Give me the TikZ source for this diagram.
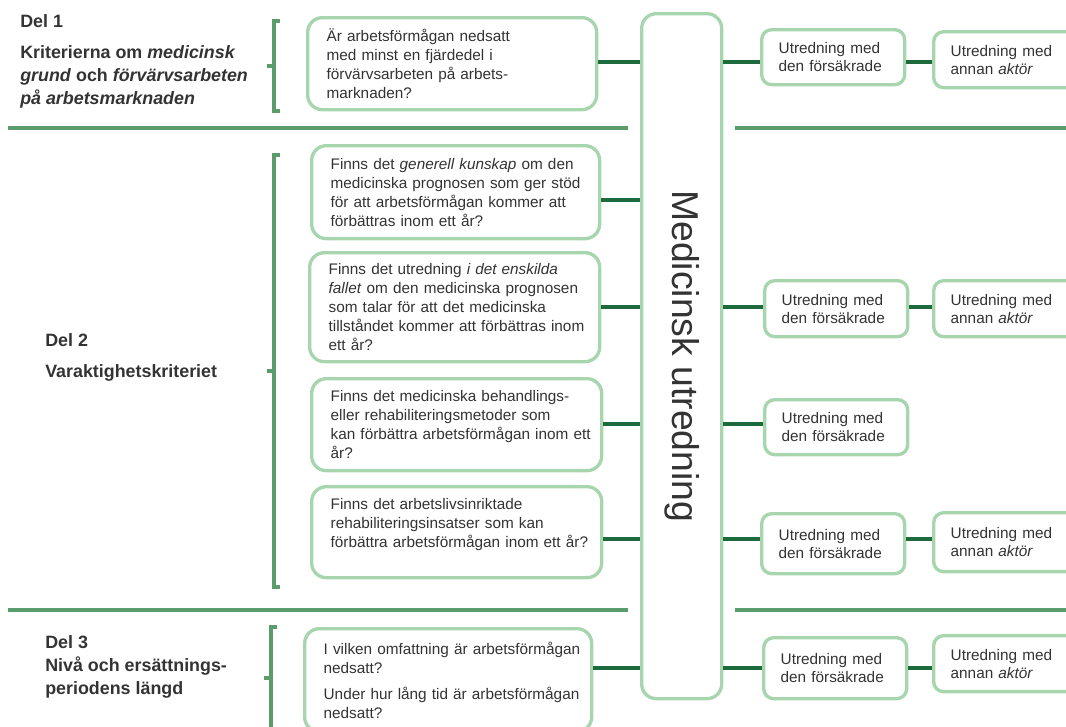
\documentclass[tikz,border=0pt]{standalone}
\usepackage{fontspec}
\setmainfont{Liberation Sans}
\usetikzlibrary{calc}
\definecolor{boxgreen}{HTML}{A6D5AE}
\definecolor{darkgreen}{HTML}{1D6B3D}
\definecolor{midgreen}{HTML}{5A9C6A}
\definecolor{textgray}{HTML}{333333}
\begin{document}
\begin{tikzpicture}[x=0.75pt,y=-0.75pt,
  qbox/.style={draw=boxgreen, line width=2.5pt, rounded corners=11pt, fill=white,
    align=left, anchor=north west, inner xsep=14.25pt, inner ysep=0pt,
    font=\fontsize{11.5}{14.25}\selectfont, text=textgray},
  sbox/.style={draw=boxgreen, line width=2.5pt, rounded corners=7.5pt, fill=white,
    align=left, anchor=north west, inner xsep=12.75pt, inner ysep=0pt,
    font=\fontsize{11.5}{13.5}\selectfont, text=textgray},
  abox/.style={sbox, minimum width=107.25pt, text width=81.75pt},
  bbox/.style={sbox, minimum width=120pt, text width=94.5pt},
  mubox/.style={draw=boxgreen, line width=2.5pt, rounded corners=11pt, fill=white,
    anchor=north west, minimum width=60pt, minimum height=513.75pt, inner sep=0pt},
  conn/.style={draw=darkgreen, line width=2.3pt},
  sep/.style={draw=midgreen, line width=2.4pt},
  brk/.style={draw=midgreen, line width=2.3pt},
  hdr/.style={font=\fontsize{13.4}{17.25}\selectfont\bfseries, text=textgray, inner sep=0pt, align=left}
]
\useasboundingbox (0,0) rectangle (1066,726);
\clip (0,0) rectangle (1066,726);

% separators
\draw[sep] (8,128) -- (628,128);
\draw[sep] (735,128) -- (1066,128);
\draw[sep] (8,610) -- (628,610);
\draw[sep] (735,610) -- (1066,610);

% brackets
\draw[brk] (280,21) -- (274,21) -- (274,111) -- (280,111);
\draw[brk] (274,66) -- (267,66);
\draw[brk] (280,155) -- (274,155) -- (274,587) -- (280,587);
\draw[brk] (274,371) -- (267,371);
\draw[brk] (277,627) -- (271,627) -- (271,740);
\draw[brk] (271,678) -- (264,678);

% headers
\node[hdr, anchor=base west] (d1) at (20,27) {Del 1};
\node[hdr, anchor=north west] (d1t) at (20,45) {Kriterierna om \textit{medicinsk}\\\textit{grund} och \textit{förvärvsarbeten}\\\textit{på arbetsmarknaden}};
\node[hdr, anchor=base west] (d2) at (45,346) {Del 2};
\node[hdr, anchor=base west] (d2t) at (45,377) {Varaktighetskriteriet};
\node[hdr, anchor=base west] (d3) at (45,648) {Del 3};
\node[hdr, anchor=north west] (d3t) at (45,657) {Nivå och ersättnings-\\periodens längd};

% row coordinates
\coordinate (r1) at (0,62);
\coordinate (r2) at (0,200);
\coordinate (r3) at (0,307);
\coordinate (r4) at (0,424);
\coordinate (r5) at (0,539);
\coordinate (r6) at (0,668);

% central box
\node[mubox, label={[font=\fontsize{28}{30}\selectfont, text=textgray, rotate=-90]center:Medicinsk utredning}] (mu) at (640,12) {};

% question boxes
\node[qbox, minimum width=216.75pt, minimum height=69pt, text width=188.25pt] (q1) at (306,16)
 {\mbox{Är arbetsförmågan nedsatt}\\\mbox{med minst en fjärdedel i}\\\mbox{förvärvsarbeten på arbets-}\\\mbox{marknaden?}};
\node[qbox, minimum width=216pt, minimum height=69.75pt, text width=187.5pt] (q2) at (310,144)
 {\mbox{Finns det \textit{generell kunskap} om den}\\\mbox{medicinska prognosen som ger stöd}\\\mbox{för att arbetsförmågan kommer att}\\\mbox{förbättras inom ett år?}};
\node[qbox, minimum width=217.5pt, minimum height=81.75pt, text width=189pt] (q3) at (308,251)
 {\mbox{Finns det utredning \textit{i det enskilda}}\\\mbox{\textit{fallet} om den medicinska prognosen}\\\mbox{som talar för att det medicinska}\\\mbox{tillståndet kommer att förbättras inom}\\\mbox{ett år?}};
\node[qbox, minimum width=217.5pt, minimum height=69pt, text width=189pt] (q4) at (310,377)
 {\mbox{Finns det medicinska behandlings-}\\\mbox{eller rehabiliteringsmetoder som}\\\mbox{kan förbättra arbetsförmågan inom ett}\\\mbox{år?}};
\node[qbox, minimum width=217.5pt, minimum height=68.25pt, text width=189pt] (q5) at (310,485)
 {\mbox{Finns det arbetslivsinriktade}\\\mbox{rehabiliteringsinsatser som kan}\\\mbox{förbättra arbetsförmågan inom ett år?}\rule[-14.25pt]{0pt}{0pt}};
\node[qbox, minimum width=215.25pt, minimum height=77.25pt, text width=186.75pt] (q6) at (303,627)
 {\mbox{I vilken omfattning är arbetsförmågan}\\\mbox{nedsatt?}\\[5.25pt]\mbox{Under hur lång tid är arbetsförmågan}\\\mbox{nedsatt?}};

% right boxes
\node[abox, minimum height=41.25pt] (a1) at (760,28) {Utredning med\\den försäkrade};
\node[bbox, minimum height=42pt] (b1) at (932,30) {Utredning med\\annan \textit{aktör}};
\node[abox, minimum height=42pt] (a2) at (763,279) {Utredning med\\den försäkrade};
\node[bbox, minimum height=42pt] (b2) at (932,279) {Utredning med\\annan \textit{aktör}};
\node[abox, minimum height=41.25pt] (a3) at (763,398) {Utredning med\\den försäkrade};
\node[abox, minimum height=45pt] (a4) at (760,512) {Utredning med\\den försäkrade};
\node[bbox, minimum height=44.25pt] (b4) at (932,511) {Utredning med\\annan \textit{aktör}};
\node[abox, minimum height=45.75pt] (a5) at (762,636) {Utredning med\\den försäkrade};
\node[bbox, minimum height=42pt] (b5) at (932,634) {Utredning med\\annan \textit{aktör}};

% connectors left
\draw[conn] (q1.east |- r1) -- (mu.west |- r1);
\draw[conn] (q2.east |- r2) -- (mu.west |- r2);
\draw[conn] (q3.east |- r3) -- (mu.west |- r3);
\draw[conn] (q4.east |- r4) -- (mu.west |- r4);
\draw[conn] (q5.east |- r5) -- (mu.west |- r5);
\draw[conn] (q6.east |- r6) -- (mu.west |- r6);

% connectors right
\draw[conn] (mu.east |- r1) -- (a1.west |- r1);
\draw[conn] (a1.east |- r1) -- (b1.west |- r1);
\draw[conn] (mu.east |- r3) -- (a2.west |- r3);
\draw[conn] (a2.east |- r3) -- (b2.west |- r3);
\draw[conn] (mu.east |- r4) -- (a3.west |- r4);
\draw[conn] (mu.east |- r5) -- (a4.west |- r5);
\draw[conn] (a4.east |- r5) -- (b4.west |- r5);
\draw[conn] (mu.east |- r6) -- (a5.west |- r6);
\draw[conn] (a5.east |- r6) -- (b5.west |- r6);
\end{tikzpicture}
\end{document}
